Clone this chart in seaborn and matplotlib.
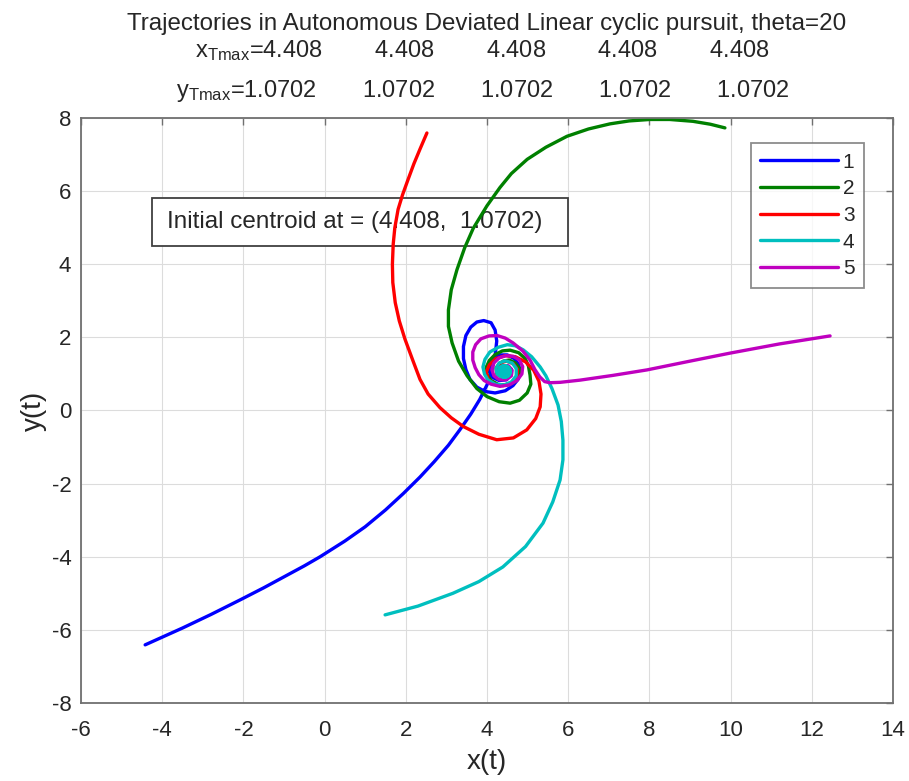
import numpy as np
import pandas as pd
import matplotlib
matplotlib.use("Agg")
import matplotlib.pyplot as plt
from matplotlib.patches import Rectangle
import seaborn as sns

# trajectory points (x, y per agent)
x1 = [-4.42, -3.9, -3.5, -2.8, -2.08, -1.5, -1.0, -0.5, -0.11, 0.5, 1.0, 1.5, 1.94, 2.35,
      2.7, 3.05, 3.33, 3.6, 3.82, 4.0, 4.12, 4.2, 4.24, 4.2, 4.1, 3.92, 3.75, 3.6, 3.48,
      3.42, 3.42, 3.48, 3.58, 3.75, 3.95, 4.2, 4.45, 4.64, 4.77, 4.82, 4.78, 4.67, 4.5,
      4.32, 4.16, 4.07, 4.06, 4.14, 4.3, 4.48, 4.6, 4.6, 4.5, 4.38, 4.32, 4.41]
y1 = [-6.41, -6.15, -5.95, -5.58, -5.18, -4.85, -4.55, -4.25, -4.0, -3.57, -3.18, -2.72,
      -2.27, -1.82, -1.4, -0.95, -0.53, -0.1, 0.3, 0.7, 1.1, 1.5, 1.9, 2.2, 2.4, 2.46,
      2.42, 2.28, 2.05, 1.75, 1.42, 1.12, 0.85, 0.64, 0.52, 0.48, 0.54, 0.68, 0.86, 1.05,
      1.26, 1.42, 1.52, 1.52, 1.42, 1.25, 1.06, 0.9, 0.82, 0.84, 0.97, 1.13, 1.22, 1.2,
      1.1, 1.07]

x2 = [9.86, 9.5, 9.07, 8.5, 8.01, 7.5, 7.03, 6.5, 5.97, 5.45, 4.99, 4.6, 4.32, 4.0, 3.66,
      3.45, 3.26, 3.12, 3.05, 3.05, 3.14, 3.3, 3.51, 3.75, 4.0, 4.3, 4.57, 4.8, 4.99, 5.08,
      5.06, 5.02, 4.94, 4.78, 4.57, 4.38, 4.2, 4.06, 3.98, 4.0, 4.1, 4.28, 4.5, 4.68, 4.8,
      4.8, 4.7, 4.55, 4.4, 4.28, 4.25, 4.3, 4.42, 4.52, 4.5, 4.41]
y2 = [7.73, 7.83, 7.91, 7.96, 7.96, 7.92, 7.84, 7.7, 7.5, 7.2, 6.87, 6.48, 6.1, 5.6, 4.98,
      4.45, 3.85, 3.3, 2.75, 2.3, 1.85, 1.35, 0.95, 0.6, 0.38, 0.24, 0.2, 0.28, 0.48, 0.72,
      0.97, 1.22, 1.42, 1.58, 1.65, 1.63, 1.53, 1.37, 1.18, 0.98, 0.82, 0.71, 0.7, 0.78,
      0.95, 1.15, 1.3, 1.38, 1.35, 1.23, 1.1, 0.98, 0.93, 1.0, 1.12, 1.07]

x3 = [2.52, 2.35, 2.2, 2.05, 1.92, 1.81, 1.73, 1.69, 1.67, 1.68, 1.74, 1.84, 1.98, 2.18,
      2.35, 2.55, 2.84, 3.12, 3.42, 3.8, 4.24, 4.65, 4.98, 5.2, 5.31, 5.33, 5.28, 5.15,
      4.95, 4.7, 4.45, 4.22, 4.06, 3.98, 4.03, 4.18, 4.4, 4.6, 4.74, 4.75, 4.65, 4.48,
      4.32, 4.22, 4.24, 4.36, 4.5, 4.52, 4.41]
y3 = [7.59, 7.15, 6.75, 6.3, 5.9, 5.5, 5.0, 4.55, 4.0, 3.5, 2.95, 2.45, 1.95, 1.35, 0.85,
      0.45, 0.08, -0.2, -0.44, -0.65, -0.8, -0.75, -0.53, -0.22, 0.1, 0.45, 0.8, 1.1, 1.33,
      1.47, 1.5, 1.42, 1.25, 1.05, 0.85, 0.72, 0.68, 0.76, 0.93, 1.12, 1.28, 1.35, 1.3,
      1.16, 1.0, 0.92, 0.97, 1.1, 1.07]

x4 = [1.49, 2.3, 3.16, 3.8, 4.39, 4.95, 5.38, 5.62, 5.8, 5.87, 5.87, 5.83, 5.75, 5.6, 5.45,
      5.31, 5.1, 4.89, 4.7, 4.5, 4.28, 4.07, 3.95, 3.9, 3.94, 4.02, 4.2, 4.42, 4.6, 4.72,
      4.72, 4.62, 4.45, 4.3, 4.22, 4.25, 4.38, 4.52, 4.57, 4.5, 4.38, 4.28, 4.32, 4.45,
      4.5, 4.42, 4.34, 4.4, 4.47, 4.43, 4.38, 4.41]
y4 = [-5.59, -5.35, -5.0, -4.68, -4.28, -3.72, -3.08, -2.5, -1.9, -1.35, -0.81, -0.3, 0.15,
      0.6, 0.95, 1.19, 1.47, 1.66, 1.77, 1.8, 1.73, 1.6, 1.4, 1.19, 0.99, 0.84, 0.72, 0.7,
      0.78, 0.95, 1.15, 1.3, 1.36, 1.3, 1.15, 0.98, 0.9, 0.95, 1.08, 1.2, 1.22, 1.12, 0.98,
      0.96, 1.07, 1.16, 1.08, 0.99, 1.04, 1.11, 1.06, 1.07]

x5 = [12.45, 11.2, 9.99, 9.0, 7.94, 7.1, 6.29, 5.8, 5.55, 5.42, 5.3, 5.18, 5.06, 4.88, 4.64,
      4.45, 4.25, 4.05, 3.85, 3.72, 3.65, 3.65, 3.71, 3.8, 3.93, 4.1, 4.32, 4.55, 4.74,
      4.86, 4.88, 4.8, 4.65, 4.47, 4.3, 4.17, 4.12, 4.17, 4.3, 4.47, 4.6, 4.62, 4.53, 4.4,
      4.3, 4.32, 4.44, 4.5, 4.41]
y5 = [2.04, 1.82, 1.57, 1.35, 1.11, 0.96, 0.83, 0.77, 0.76, 0.79, 0.92, 1.12, 1.38, 1.63,
      1.85, 1.98, 2.05, 2.04, 1.96, 1.8, 1.6, 1.38, 1.17, 0.98, 0.82, 0.72, 0.66, 0.7, 0.82,
      1.0, 1.2, 1.38, 1.48, 1.5, 1.44, 1.3, 1.12, 0.95, 0.84, 0.84, 0.95, 1.1, 1.22, 1.23,
      1.14, 1.0, 0.97, 1.07, 1.07]

agent_labels = ["1", "2", "3", "4", "5"]
line_colors = ["#0000ff", "#008000", "#ff0000", "#00bfbf", "#bf00bf"]

x_final = [4.408] * 5
y_final = [1.0702] * 5
centroid = (4.408, 1.0702)
theta = 20

sns.set_theme(style="whitegrid")
plt.rcParams["font.family"] = ["Liberation Sans", "DejaVu Sans"]
plt.rcParams["axes.unicode_minus"] = False
plt.rcParams["mathtext.fontset"] = "custom"
plt.rcParams["mathtext.rm"] = "Liberation Sans"
plt.rcParams["mathtext.it"] = "Liberation Sans"

fig = plt.figure(figsize=(9.09, 7.81), dpi=100)
ax = fig.add_axes([0.0891, 0.0999, 0.8933, 0.749])

frames = []
for lab, xs, ys in zip(agent_labels, [x1, x2, x3, x4, x5], [y1, y2, y3, y4, y5]):
    frames.append(pd.DataFrame({"x": xs, "y": ys, "agent": lab}))
df = pd.concat(frames, ignore_index=True)

sns.lineplot(data=df, x="x", y="y", hue="agent", palette=line_colors, sort=False,
             estimator=None, units="agent", linewidth=2.4, ax=ax)
for ln in ax.lines:
    ln.set_solid_joinstyle("round")
    ln.set_solid_capstyle("round")

# all agents meet at the centroid -> the cyan blob in the middle
sns.scatterplot(x=x_final, y=y_final, color=line_colors[3], s=110, linewidth=0,
                zorder=5, legend=False, ax=ax)

ax.set_xlim(-6, 14)
ax.set_ylim(-8, 8)
ax.set_xticks(range(-6, 15, 2))
ax.set_yticks(range(-8, 9, 2))
ax.grid(True, color="#dcdcdc", linewidth=0.8)
for s in ax.spines.values():
    s.set_color("#707070")
    s.set_linewidth(1.3)
ax.tick_params(direction="in", length=5, width=1, color="#707070", labelsize=16,
               top=True, right=True, labelcolor="#262626")
ax.tick_params(axis="x", pad=12)
ax.tick_params(axis="y", pad=7)
ax.set_xlabel("x(t)", fontsize=20, color="#262626", labelpad=6)
ax.set_ylabel("y(t)", fontsize=20, color="#262626", labelpad=3)

leg = ax.legend(loc="upper right", bbox_to_anchor=(0.964, 0.957), fontsize=15,
                handlelength=3.7, handletextpad=0.25, labelspacing=0.37,
                frameon=True, fancybox=False, borderpad=0.45, borderaxespad=0)
leg.get_frame().set_edgecolor("#707070")
leg.get_frame().set_linewidth(1.3)
leg.set_title(None)

# annotation box with the initial centroid (trajectories pass over it)
ax.add_patch(Rectangle((0.0874, 0.781), 0.5124, 0.082, transform=ax.transAxes,
                       fc="white", ec="#404040", lw=1.3, zorder=1.5))
ax.text(0.106, 0.822, "Initial centroid at = (%.4g,  %.5g)" % centroid, transform=ax.transAxes,
        fontsize=17.5, va="center", ha="left", zorder=1.6)

fig.text(0.535, 0.962, "Trajectories in Autonomous Deviated Linear cyclic pursuit, theta=%d" % theta,
         ha="center", va="baseline", fontsize=17.4, color="#262626")
xs_txt = "x$_{\\rm Tmax}$=" + "        ".join("%.4g" % v for v in x_final)
ys_txt = "y$_{\\rm Tmax}$=" + "       ".join("%.5g" % v for v in y_final)
fig.text(0.531, 0.927, xs_txt, ha="center", va="baseline", fontsize=17, color="#262626")
fig.text(0.531, 0.876, ys_txt, ha="center", va="baseline", fontsize=17, color="#262626")

fig.savefig("out.png", dpi=100)
